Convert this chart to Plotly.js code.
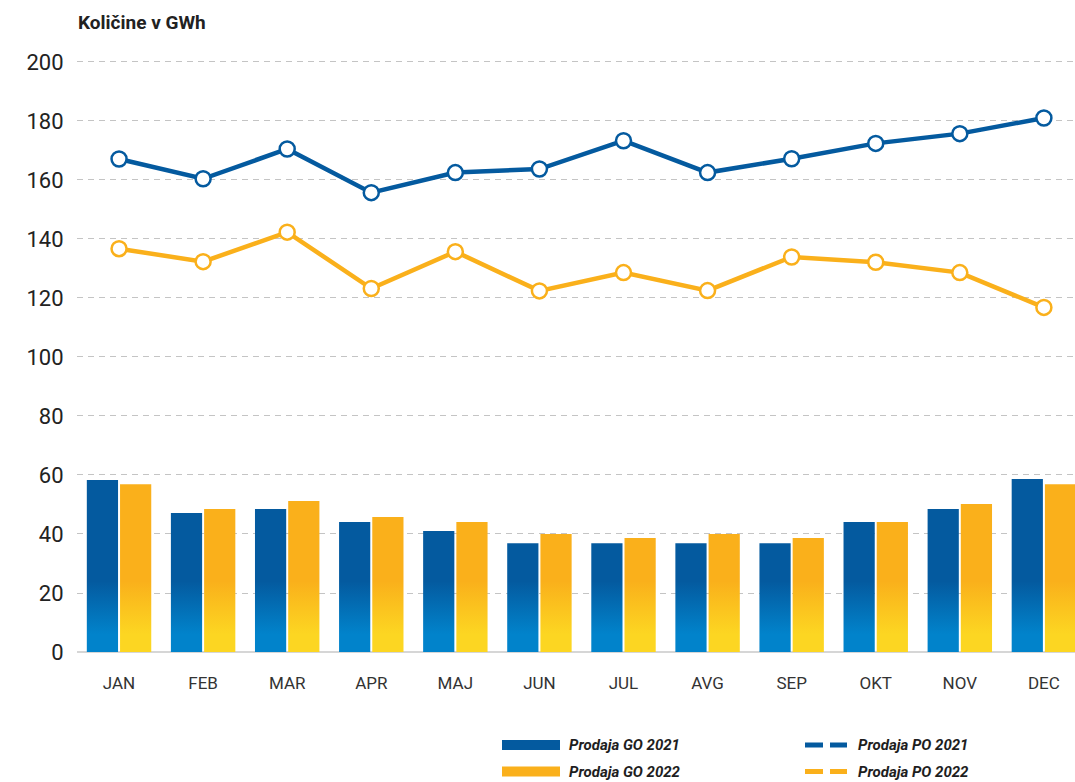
<!DOCTYPE html>
<html>
<head>
<meta charset="utf-8">
<script src="https://cdn.plot.ly/plotly-3.0.1.min.js"></script>
<style>
  html, body { margin: 0; padding: 0; background: #fff; overflow: hidden; }
  #chart { width: 1075px; height: 782px; }
</style>
</head>
<body>
<div id="chart"></div>
<script>
// data (GWh)
const months = ['JAN', 'FEB', 'MAR', 'APR', 'MAJ', 'JUN', 'JUL', 'AVG', 'SEP', 'OKT', 'NOV', 'DEC'];
const go2021 = [58.3, 47.1, 48.5, 44.1, 41.0, 36.9, 36.9, 36.9, 36.9, 44.1, 48.5, 58.6];
const go2022 = [56.9, 48.5, 51.2, 45.8, 44.1, 40.0, 38.6, 40.0, 38.6, 44.1, 50.2, 56.9];
const po2021 = [167.1, 160.4, 170.5, 155.7, 162.5, 163.7, 173.3, 162.5, 167.2, 172.4, 175.7, 181.0];
const po2022 = [136.7, 132.3, 142.3, 123.2, 135.7, 122.4, 128.6, 122.5, 133.9, 132.1, 128.6, 116.8];
const yTicks = [0, 20, 40, 60, 80, 100, 120, 140, 160, 180, 200];

const legendBars = ['Prodaja GO 2021', 'Prodaja GO 2022'];
const legendLines = ['Prodaja PO 2021', 'Prodaja PO 2022'];

const BLUE = '#045a9f';
const ORANGE = '#fab01b';

const chartDiv = document.getElementById('chart');

// plot area in pixels (top a bit above 200 so its grid line is drawn)
const M = { l: 77, r: 0, t: 59, b: 130 };
const W = 1075, H = 782;
const plotW = W - M.l - M.r;
const plotH = H - M.t - M.b;
// pixel -> paper helpers for the hand made legend
const px = x => (x - M.l) / plotW;
const py = y => (H - M.b - y) / plotH;

const traces = [
    {
        type: 'bar', x: months, y: go2021, name: legendBars[0],
        marker: { color: BLUE, line: { width: 0 } }, showlegend: false
    },
    {
        type: 'bar', x: months, y: go2022, name: legendBars[1],
        marker: { color: ORANGE, line: { width: 0 } }, showlegend: false
    },
    {
        type: 'scatter', mode: 'lines+markers', x: months, y: po2021, name: legendLines[0],
        line: { color: BLUE, width: 4.5 },
        marker: { size: 15, color: '#fff', line: { color: BLUE, width: 2.5 } },
        showlegend: false, cliponaxis: false
    },
    {
        type: 'scatter', mode: 'lines+markers', x: months, y: po2022, name: legendLines[1],
        line: { color: ORANGE, width: 4.5 },
        marker: { size: 15, color: '#fff', line: { color: ORANGE, width: 2.5 } },
        showlegend: false, cliponaxis: false
    }
];

// legend drawn with shapes + annotations
const shapes = [];
const annotations = [];
const rowY = [745, 771.5];
legendBars.forEach((name, i) => {
    shapes.push({
        type: 'rect', xref: 'paper', yref: 'paper',
        x0: px(502), x1: px(560), y0: py(rowY[i] - 5), y1: py(rowY[i] + 5),
        fillcolor: i === 0 ? BLUE : ORANGE, line: { width: 0 }
    });
    annotations.push({
        xref: 'paper', yref: 'paper', x: px(567), y: py(rowY[i]),
        xanchor: 'left', yanchor: 'middle', showarrow: false,
        text: '<b><i>' + name + '</i></b>',
        font: { family: 'Roboto, sans-serif', size: 15, color: '#1e1e1e' }
    });
});
legendLines.forEach((name, i) => {
    shapes.push({
        type: 'line', xref: 'paper', yref: 'paper',
        x0: px(805), x1: px(847), y0: py(rowY[i]), y1: py(rowY[i]),
        line: { color: i === 0 ? BLUE : ORANGE, width: 5, dash: '18px,7px' }
    });
    annotations.push({
        xref: 'paper', yref: 'paper', x: px(856), y: py(rowY[i]),
        xanchor: 'left', yanchor: 'middle', showarrow: false,
        text: '<b><i>' + name + '</i></b>',
        font: { family: 'Roboto, sans-serif', size: 15, color: '#1e1e1e' }
    });
});

const layout = {
    width: W, height: H,
    margin: M,
    paper_bgcolor: '#fff',
    plot_bgcolor: '#fff',
    barmode: 'group',
    bargap: 0.21,
    bargroupgap: 0.06,
    showlegend: false,
    title: {
        text: '<b>Količine v GWh</b>',
        font: { family: 'Roboto, sans-serif', size: 19, color: '#222' },
        x: 78 / W, xanchor: 'left', xref: 'container',
        y: 1 - 22 / H, yanchor: 'middle', yref: 'container'
    },
    xaxis: {
        type: 'category',
        range: [-0.5, 11.37],
        showgrid: false,
        showline: false,
        zeroline: false,
        ticks: 'outside', ticklen: 16, tickcolor: 'rgba(0,0,0,0)',
        tickfont: { family: 'Roboto, sans-serif', size: 17, color: '#333' }
    },
    yaxis: {
        range: [0, 201],
        tickvals: yTicks,
        showgrid: true,
        gridcolor: '#c4c4c4', gridwidth: 1, griddash: '6px,5px',
        zeroline: true, zerolinecolor: '#d6d6d6', zerolinewidth: 2.5,
        showline: false,
        ticks: 'outside', ticklen: 8, tickcolor: 'rgba(0,0,0,0)',
        tickfont: { family: 'Roboto, sans-serif', size: 22, color: '#222' }
    },
    shapes: shapes,
    annotations: annotations
};

// bars in the original fade from a dark to a light tone near the bottom
function applyGradients(gd) {
    const ya = gd._fullLayout.yaxis;
    const svg = gd.querySelector('svg.main-svg');
    const ns = 'http://www.w3.org/2000/svg';
    let defs = svg.querySelector('defs');
    if (!defs) {
        defs = document.createElementNS(ns, 'defs');
        svg.insertBefore(defs, svg.firstChild);
    }
    const grads = [
        { id: 'gradBlue', top: BLUE, bottom: '#0183cb' },
        { id: 'gradOrange', top: ORANGE, bottom: '#fcd622' }
    ];
    grads.forEach(g => {
        const lg = document.createElementNS(ns, 'linearGradient');
        lg.setAttribute('id', g.id);
        lg.setAttribute('gradientUnits', 'userSpaceOnUse');
        lg.setAttribute('x1', 0);
        lg.setAttribute('x2', 0);
        lg.setAttribute('y1', ya.l2p(24));
        lg.setAttribute('y2', ya.l2p(6));
        [[0, g.top], [1, g.bottom]].forEach(([off, col]) => {
            const st = document.createElementNS(ns, 'stop');
            st.setAttribute('offset', off);
            st.setAttribute('stop-color', col);
            lg.appendChild(st);
        });
        defs.appendChild(lg);
    });
    const barTraces = gd.querySelectorAll('.barlayer .trace');
    barTraces.forEach((tr, i) => {
        tr.querySelectorAll('path').forEach(p => {
            p.style.fill = 'url(#' + grads[i].id + ')';
        });
    });
}

Plotly.newPlot(chartDiv, traces, layout, { displayModeBar: false, staticPlot: true })
    .then(applyGradients);
</script>
</body>
</html>
